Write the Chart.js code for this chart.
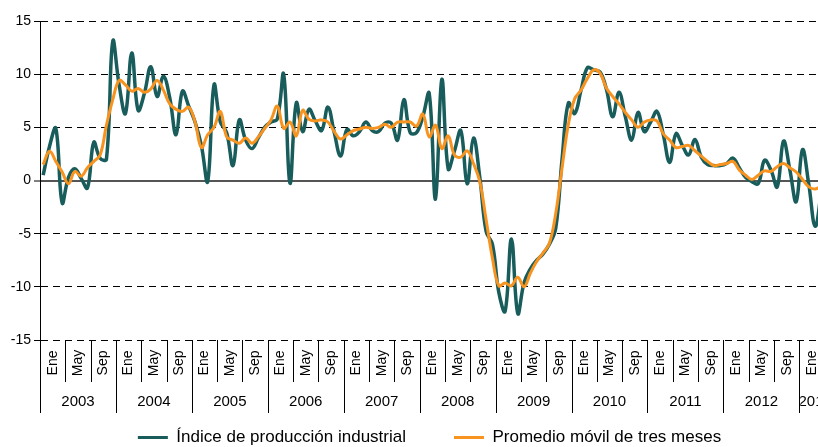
<!DOCTYPE html>
<html lang="es">
<head>
<meta charset="utf-8">
<title>Índice de producción industrial</title>
<script src="https://cdn.jsdelivr.net/npm/chart.js@4.4.1/dist/chart.umd.min.js"></script>
<style>
    html, body { margin: 0; padding: 0; background: #fff; overflow: hidden; }
    /* the chart is a bit wider/taller than the window, the right edge is cut like in the original */
    #wrap { position: relative; width: 850px; height: 456px; }
</style>
</head>
<body>
<div id="wrap"><canvas id="ipiChart"></canvas></div>
<script>
// ---- Data (monthly, Jan 2003 - May 2013; the last months are cut by the window) ----
const years = ['2003', '2004', '2005', '2006', '2007', '2008', '2009', '2010', '2011', '2012', '2013'];
const months = ['Ene', 'Feb', 'Mar', 'Abr', 'May', 'Jun', 'Jul', 'Ago', 'Sep', 'Oct', 'Nov', 'Dic'];
const monthTicks = ['Ene', 'May', 'Sep'];   // one label every 4 months
const yTicks = [-15, -10, -5, 0, 5, 10, 15];

const indiceProduccion = [
    0.5, 3.2, 4.9, -2.1, 0.3, 1.1, 0.2, -0.7, 3.6, 2.1, 2.0, 13.1,        // 2003
    9.0, 6.3, 12.0, 6.6, 8.2, 10.7, 7.9, 9.8, 7.8, 4.3, 8.4, 7.0,         // 2004
    5.5, 3.3, -0.1, 9.0, 5.5, 4.5, 1.4, 5.7, 3.8, 3.0, 4.0, 5.0,          // 2005
    5.5, 5.8, 10.0, -0.25, 7.3, 4.6, 6.7, 5.6, 4.7, 6.9, 4.5, 2.3,        // 2006
    4.8, 4.2, 4.6, 5.5, 4.7, 4.6, 5.4, 5.4, 3.8, 7.6, 4.5, 4.5,           // 2007
    6.0, 8.2, -1.75, 9.5, 1.1, 2.8, 4.7, -0.3, 4.0, 0.3, -4.8, -6.0,      // 2008
    -10.5, -12.3, -5.5, -12.5, -9.6, -8.3, -7.5, -6.9, -6.0, -4.5, 2.0, 7.3, // 2009
    6.3, 8.5, 10.6, 10.4, 10.2, 8.6, 6.0, 8.3, 6.0, 3.8, 6.4, 4.6,        // 2010
    5.5, 6.5, 4.3, 1.7, 4.4, 3.3, 2.4, 3.85, 2.2, 1.5, 1.4, 1.4,          // 2011
    1.6, 2.1, 1.2, 0.3, -0.1, -0.3, 1.9, 1.0, -0.6, 3.7, 1.0, -2.0,       // 2012
    2.9, -0.4, -4.3, -1.0, null                                           // 2013
];

const promedioMovil = [
    1.5, 2.75, 1.8, 0.8, -0.3, 0.85, 0.4, 1.2, 1.8, 2.4, 5.2, 7.6,        // 2003
    9.4, 9.0, 8.4, 8.65, 8.3, 8.6, 9.4, 8.5, 7.2, 6.7, 6.5, 6.9,          // 2004
    5.5, 3.1, 4.3, 5.0, 6.5, 4.1, 3.8, 3.5, 4.0, 3.5, 4.1, 4.9,           // 2005
    5.7, 7.0, 4.9, 5.5, 4.2, 6.6, 5.75, 5.6, 5.7, 5.5, 4.6, 3.9,          // 2006
    4.3, 4.7, 4.85, 5.0, 4.9, 5.0, 5.3, 5.0, 5.5, 5.5, 5.5, 5.1,          // 2007
    6.25, 4.1, 5.2, 3.0, 4.2, 2.4, 2.2, 2.8, 1.6, -0.1, -3.7, -7.3,       // 2008
    -9.9, -9.65, -9.9, -9.1, -10.0, -8.7, -7.6, -6.8, -5.9, -3.1, 1.2, 5.3, // 2009
    7.7, 8.5, 9.6, 10.4, 10.1, 8.7, 7.9, 7.2, 6.4, 5.7, 5.0, 5.5,         // 2010
    5.7, 5.6, 4.4, 3.8, 3.1, 3.2, 3.3, 2.8, 2.3, 1.8, 1.4, 1.5,           // 2011
    1.6, 1.8, 1.0, 0.5, 0.1, 0.5, 0.9, 0.85, 1.3, 1.6, 1.2, 0.8,          // 2012
    0.1, -0.6, -0.8, -0.5, null                                           // 2013
];

// Category labels: 'Ene 2003', 'Feb 2003', ...
const categories = indiceProduccion.map((v, i) => months[i % 12] + ' ' + years[Math.floor(i / 12)]);

const FONT = "'Liberation Sans', Arial, sans-serif";
const TEAL = '#185c5b';
const ORANGE = '#f7931e';

// Draws the two-level category axis (Ene/May/Sep rotated, years below)
const groupedAxisPlugin = {
    id: 'groupedAxis',
    afterDraw(chart) {
        const ctx = chart.ctx;
        const xScale = chart.scales.x;
        const area = chart.chartArea;
        const half = (xScale.getPixelForValue(1) - xScale.getPixelForValue(0)) / 2;
        const top = area.bottom;

        ctx.save();
        ctx.strokeStyle = '#000';
        ctx.fillStyle = '#000';
        ctx.lineWidth = 1;

        // month bands of 4
        for (let i = 0; i < categories.length; i += 4) {
            const left = xScale.getPixelForValue(i) - half;
            const last = Math.min(i + 3, categories.length - 1);
            const right = Math.min(xScale.getPixelForValue(last) + half, area.right);
            const yearStart = i % 12 === 0;

            const sx = Math.round(left) + 0.5;
            ctx.beginPath();
            ctx.moveTo(sx, top);
            ctx.lineTo(sx, top + (yearStart ? 73 : 42));
            ctx.stroke();

            ctx.save();
            ctx.translate((left + right) / 2, top + 23);
            ctx.rotate(-Math.PI / 2);
            ctx.font = '14px ' + FONT;
            ctx.textAlign = 'center';
            ctx.textBaseline = 'middle';
            ctx.fillText(monthTicks[(i % 12) / 4], 0, 0);
            ctx.restore();
        }

        // year groups (label clipped to its group)
        years.forEach((year, y) => {
            const first = y * 12;
            if (first >= categories.length) return;
            const last = Math.min(first + 11, categories.length - 1);
            const left = xScale.getPixelForValue(first) - half;
            const right = Math.min(xScale.getPixelForValue(last) + half, area.right);
            ctx.save();
            ctx.beginPath();
            ctx.rect(left + 1, top, right - left - 1, 80);
            ctx.clip();
            ctx.font = '15px ' + FONT;
            ctx.textAlign = 'center';
            ctx.textBaseline = 'middle';
            ctx.fillText(year, (left + right) / 2, top + 62);
            ctx.restore();
        });

        ctx.restore();
    }
};

// Nudge the legend a bit to the left (in the original it is centred on the uncut figure)
const legendShiftPlugin = {
    id: 'legendShift',
    afterLayout(chart) {
        chart.legend.left -= 12;
    }
};

const isZero = (c) => c.tick && c.tick.value === 0;

const ctx = document.getElementById('ipiChart').getContext('2d');
const ipiChart = new Chart(ctx, {
    type: 'line',
    data: {
        labels: categories,
        datasets: [{
            label: 'Índice de producción industrial',
            data: indiceProduccion,
            borderColor: TEAL,
            backgroundColor: TEAL,
            borderWidth: 3.5,
            pointRadius: 0,
            pointBorderWidth: 3,
            tension: 0.4,
            order: 1
        }, {
            label: 'Promedio móvil de tres meses',
            data: promedioMovil,
            borderColor: ORANGE,
            backgroundColor: ORANGE,
            borderWidth: 3,
            pointRadius: 0,
            pointBorderWidth: 3,
            tension: 0.4,
            order: 0
        }]
    },
    options: {
        responsive: true,
        maintainAspectRatio: false,
        animation: false,
        layout: {
            padding: { top: 21, right: 19, bottom: 0, left: 0 }
        },
        plugins: {
            tooltip: { enabled: false },
            legend: {
                position: 'bottom',
                fullSize: false,   // centred under the plot area, not the canvas
                labels: {
                    usePointStyle: true,
                    pointStyle: 'line',
                    pointStyleWidth: 30,
                    padding: 48,
                    color: '#000',
                    font: { size: 17, family: FONT },
                    sort: (a, b) => a.datasetIndex - b.datasetIndex
                }
            }
        },
        scales: {
            x: {
                offset: true,
                grid: { display: false },
                border: { display: false },
                ticks: { display: false },
                afterFit(scale) { scale.height = 41; }
            },
            y: {
                min: -15,
                max: 15,
                afterBuildTicks(scale) { scale.ticks = yTicks.map(v => ({ value: v })); },
                ticks: {
                    color: '#000',
                    padding: 3,
                    font: { size: 14, family: FONT }
                },
                grid: {
                    color: c => isZero(c) ? '#555' : '#000',
                    lineWidth: c => isZero(c) ? 2 : 1,
                    tickColor: '#000',
                    tickWidth: 1,
                    tickLength: 6
                },
                border: {
                    color: '#000',
                    width: 1,
                    dash: c => (!c.tick || c.tick.value === 0) ? [] : [7, 5]
                },
                afterFit(scale) { scale.width = 40; }
            }
        }
    },
    plugins: [groupedAxisPlugin, legendShiftPlugin]
});

console.log('Chart ready');
</script>
</body>
</html>
